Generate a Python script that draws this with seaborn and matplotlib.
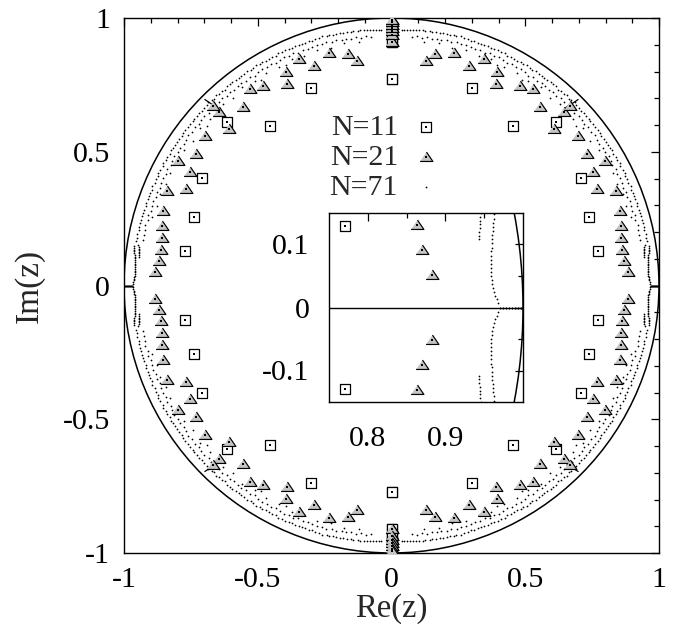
import numpy as np
import matplotlib
matplotlib.use("Agg")
import matplotlib.pyplot as plt
import seaborn as sns
from matplotlib.patches import Circle
from matplotlib.ticker import FixedLocator

# ---------------- data (first quadrant, mirrored to the other three) -------------
# N=11 (squares)
n11_x = [0.000, 0.302, 0.454, 0.615, 0.710, 0.740, 0.771, 0.000, 0.000, 0.000]
n11_y = [0.772, 0.737, 0.597, 0.612, 0.403, 0.255, 0.130, 0.909, 0.940, 0.958]

# N=21 (triangles)
n21_x = [0.128, 0.163, 0.234, 0.291, 0.347, 0.396, 0.389, 0.480, 0.528, 0.556,
         0.645, 0.667, 0.606, 0.696, 0.730, 0.799, 0.752, 0.769, 0.840, 0.854,
         0.858, 0.859, 0.863, 0.870, 0.883,
         0.000, 0.000, 0.000, 0.000, 0.000, 0.000, 0.000]
n21_y = [0.839, 0.864, 0.870, 0.822, 0.847, 0.799, 0.752, 0.747, 0.733, 0.668,
         0.649, 0.671, 0.585, 0.559, 0.492, 0.467, 0.426, 0.360, 0.353, 0.280,
         0.224, 0.178, 0.131, 0.091, 0.051,
         0.909, 0.935, 0.950, 0.962, 0.975, 0.985, 0.993]

# N=71 (dots): outer band (angle in degrees, radius)
outer_deg = [87.7, 87.2, 86.6, 85.9, 85.1, 84.6, 83.8, 83.0, 82.4, 81.5,
             80.9, 80.0, 79.2, 78.5, 77.6, 76.9, 76.0, 75.4, 74.5, 73.7,
             72.8, 72.1, 71.3, 70.4, 69.6, 68.9, 68.0, 67.3, 66.5, 65.6,
             64.9, 64.0, 63.3, 62.4, 61.6, 60.9, 60.0, 59.2, 58.5, 57.6,
             56.8, 56.1, 55.2, 54.4, 53.7, 52.8, 52.0, 51.3, 50.5, 49.6,
             48.9, 48.0, 47.3, 46.5, 45.8, 45.0, 44.3, 43.5, 42.6, 41.9,
             41.0, 40.2, 39.5, 38.6, 37.9, 37.0, 36.2, 35.5, 34.6, 33.8,
             33.0, 32.2, 31.5, 30.6, 29.8, 29.0, 28.2, 27.5, 26.6, 25.8,
             25.0, 24.2, 23.5, 22.6, 21.8, 21.0, 20.3, 19.5, 18.6, 17.9,
             17.0, 16.3, 15.5, 14.6, 13.9, 13.0, 12.3, 11.5, 10.6, 9.9]
outer_r = [0.955, 0.957, 0.956, 0.959, 0.958, 0.961, 0.960, 0.962, 0.960, 0.963,
           0.961, 0.964, 0.962, 0.965, 0.963, 0.961, 0.964, 0.962, 0.966, 0.963,
           0.965, 0.962, 0.964, 0.961, 0.965, 0.963, 0.966, 0.962, 0.964, 0.967,
           0.963, 0.965, 0.962, 0.966, 0.964, 0.961, 0.965, 0.963, 0.967, 0.964,
           0.962, 0.966, 0.963, 0.965, 0.961, 0.964, 0.967, 0.963, 0.965, 0.962,
           0.966, 0.964, 0.967, 0.963, 0.965, 0.968, 0.964, 0.966, 0.962, 0.965,
           0.963, 0.967, 0.964, 0.966, 0.962, 0.965, 0.968, 0.964, 0.966, 0.963,
           0.967, 0.964, 0.966, 0.963, 0.967, 0.965, 0.968, 0.964, 0.966, 0.969,
           0.965, 0.967, 0.964, 0.968, 0.966, 0.969, 0.965, 0.967, 0.970, 0.966,
           0.968, 0.966, 0.969, 0.967, 0.970, 0.968, 0.966, 0.969, 0.967, 0.968]
# middle band
middle_deg = [85.2, 84.1, 83.0, 81.8, 80.7, 79.5, 78.6, 77.3, 76.2, 75.0,
              73.9, 72.8, 71.6, 70.5, 69.4, 68.2, 67.1, 66.0, 64.8, 63.7,
              62.6, 61.4, 60.3, 59.2, 58.0, 56.9, 55.8, 54.6, 53.5, 52.4,
              51.2, 50.1, 49.0, 47.8, 46.7, 45.6, 44.4, 43.3, 42.2, 41.0,
              39.9, 38.8, 37.6, 36.5, 35.4, 34.2, 33.1, 32.0, 30.8, 29.7,
              28.6, 27.4, 26.3, 25.2, 24.0, 22.9, 21.8, 20.6, 19.5, 18.4,
              17.2, 16.1, 15.0, 13.8, 12.7, 11.6, 10.4]
middle_r = [0.932, 0.936, 0.934, 0.938, 0.935, 0.939, 0.936, 0.940, 0.937, 0.941,
            0.938, 0.942, 0.939, 0.936, 0.941, 0.938, 0.942, 0.939, 0.943, 0.940,
            0.937, 0.942, 0.939, 0.943, 0.940, 0.937, 0.942, 0.939, 0.944, 0.941,
            0.938, 0.943, 0.940, 0.944, 0.941, 0.938, 0.943, 0.940, 0.945, 0.942,
            0.939, 0.944, 0.941, 0.945, 0.942, 0.939, 0.944, 0.941, 0.946, 0.943,
            0.940, 0.945, 0.942, 0.946, 0.943, 0.940, 0.945, 0.942, 0.947, 0.944,
            0.941, 0.946, 0.943, 0.947, 0.944, 0.946, 0.945]
# inner sparse dots
inner_deg = [82.5, 79.0, 75.8, 72.4, 69.1, 66.3, 62.8, 59.5, 56.2, 53.0,
             49.7, 47.1, 42.5, 39.4, 36.0, 33.2, 30.1, 27.0, 24.3, 21.5,
             18.8, 16.0, 40.8, 57.7, 64.5]
inner_r = [0.918, 0.922, 0.915, 0.924, 0.919, 0.926, 0.917, 0.923, 0.920, 0.927,
           0.918, 0.924, 0.921, 0.928, 0.919, 0.925, 0.922, 0.929, 0.924, 0.930,
           0.926, 0.931, 0.912, 0.910, 0.914]
# dense tails close to the real axis (Cartesian)
tailB_x = [0.962, 0.962, 0.961, 0.961, 0.961, 0.960, 0.960, 0.960, 0.960, 0.959,
           0.959, 0.959, 0.959, 0.959, 0.959, 0.959, 0.960, 0.960, 0.961, 0.962,
           0.964, 0.966, 0.968]
tailB_y = [0.148, 0.141, 0.134, 0.128, 0.121, 0.115, 0.108, 0.102, 0.095, 0.089,
           0.082, 0.076, 0.069, 0.063, 0.056, 0.050, 0.044, 0.037, 0.031, 0.025,
           0.019, 0.013, 0.007]
tailA_x = [0.946, 0.945, 0.945, 0.944, 0.944, 0.943, 0.943, 0.943]
tailA_y = [0.150, 0.144, 0.138, 0.132, 0.126, 0.120, 0.114, 0.108]
axis_x = [0.970, 0.974, 0.978, 0.982, 0.986, 0.990, 0.994, 0.998]
axis_y = [0.0, 0.0, 0.0, 0.0, 0.0, 0.0, 0.0, 0.0]
# short dense streaks crossing the bands near 45 degrees
streak_deg = [45.6, 44.9]
streak_r = [0.925, 0.985]

# ---------------- helpers --------------------------------------------------------
QUADS = [(1, 1), (-1, 1), (1, -1), (-1, -1)]


def mirror(xs, ys):
    X, Y = [], []
    for sx, sy in QUADS:
        X += [sx * v for v in xs]
        Y += [sy * v for v in ys]
    return np.array(X), np.array(Y)


def polar(deg, r):
    d = np.radians(np.array(deg))
    r = np.array(r)
    return list(r * np.cos(d)), list(r * np.sin(d))


sq_x, sq_y = mirror(n11_x, n11_y)
tr_x, tr_y = mirror(n21_x, n21_y)
ox, oy = polar(outer_deg, outer_r)
mx, my = polar(middle_deg, middle_r)
ix, iy = polar(inner_deg, inner_r)
dots_x, dots_y = mirror(ox + mx + ix + tailB_x + tailA_x + axis_x,
                        oy + my + iy + tailB_y + tailA_y + axis_y)
stx, sty = polar(streak_deg, streak_r)

# ---------------- style ----------------------------------------------------------
sns.set_style("white")
plt.rcParams['font.family'] = ['Liberation Serif', 'DejaVu Serif']
plt.rcParams['axes.linewidth'] = 1.0

FS = 21.5
TRI = [(-1.0, -0.62), (1.0, -0.62), (0.0, 0.85)]

fig = plt.figure(figsize=(6.76, 6.31), dpi=100)
ax = fig.add_axes([124 / 676, 1 - 553 / 631, 535 / 676, 535 / 631])
axin = fig.add_axes([329 / 676, 1 - 402 / 631, 194 / 676, 189 / 631])


def draw(a):
    a.add_patch(Circle((0, 0), 1.0, fill=False, ec='black', lw=1.1, zorder=1))
    sns.scatterplot(x=sq_x, y=sq_y, marker='s', s=58, color='black',
                    facecolor='white', edgecolor='black', linewidth=0.9,
                    ax=a, zorder=3, legend=False)
    sns.scatterplot(x=sq_x, y=sq_y, marker='s', s=1.3, color='black',
                    linewidth=0, ax=a, zorder=4, legend=False)
    sns.scatterplot(x=tr_x, y=tr_y, marker=TRI, s=85, color='black',
                    facecolor='#c4c4c4', edgecolor='black', linewidth=0.85,
                    ax=a, zorder=5, legend=False)
    sns.scatterplot(x=tr_x, y=tr_y, marker='s', s=1.3, color='black',
                    linewidth=0, ax=a, zorder=6, legend=False)
    sns.scatterplot(x=dots_x, y=dots_y, marker='o', s=1.6, color='black',
                    linewidth=0, ax=a, zorder=2, legend=False)
    for sx, sy in QUADS:
        sns.lineplot(x=[sx * v for v in stx], y=[sy * v for v in sty],
                     color='black', lw=0.9, ax=a, sort=False, zorder=2)


draw(ax)
draw(axin)

# main axes
ax.set_xlim(-1, 1)
ax.set_ylim(-1, 1)
ax.set_xticks([-1, -0.5, 0, 0.5, 1])
ax.set_xticklabels(['-1', '-0.5', '0', '0.5', '1'])
ax.set_yticks([-1, -0.5, 0, 0.5, 1])
ax.set_yticklabels(['-1', '-0.5', '0', '0.5', '1'])
minor = [v / 10 for v in range(-9, 10) if v % 5 != 0]
ax.xaxis.set_minor_locator(FixedLocator(minor))
ax.yaxis.set_minor_locator(FixedLocator(minor))
ax.tick_params(which='both', direction='in', top=True, right=True,
               width=0.9, colors='black', labelsize=FS)
ax.tick_params(which='major', length=6)
ax.tick_params(which='minor', length=3.3)
ax.tick_params(axis='x', which='major', pad=10)
ax.tick_params(axis='y', which='major', pad=10)
ax.set_xlabel('Re(z)', fontsize=23.5, labelpad=0.5)
ax.set_ylabel('Im(z)', fontsize=24, labelpad=13)
for s in ax.spines.values():
    s.set_color('black')

# inset axes
axin.set_xlim(0.75, 1.0)
axin.set_ylim(-0.15, 0.15)
axin.axhline(0, color='black', lw=1.0, zorder=1)
axin.set_xticks([0.8, 0.9])
axin.set_xticklabels(['0.8', '0.9'])
axin.set_yticks([-0.1, 0, 0.1])
axin.set_yticklabels(['-0.1', '0', '0.1'])
axin.xaxis.set_minor_locator(FixedLocator([0.85, 0.95]))
axin.yaxis.set_minor_locator(FixedLocator([-0.05, 0.05]))
axin.tick_params(which='both', direction='in', top=True, right=True,
                 width=0.9, colors='black', labelsize=FS)
axin.tick_params(which='major', length=6)
axin.tick_params(which='minor', length=3.3)
axin.tick_params(axis='x', which='major', pad=17.5)
axin.tick_params(axis='y', which='major', pad=14)
axin.set_facecolor('white')
for s in axin.spines.values():
    s.set_color('black')

# legend (gnuplot-style key: text then sample)
h_sq = ax.collections[0]
h_sqd = ax.collections[1]
h_tr = ax.collections[2]
h_trd = ax.collections[3]
h_dot = ax.collections[4]
leg = ax.legend([(h_sq, h_sqd), (h_tr, h_trd), h_dot], ['N=11', 'N=21', 'N=71'],
                loc='upper right', bbox_to_anchor=(441 / 676, 1 - 114 / 631),
                bbox_transform=fig.transFigure, frameon=False, markerfirst=False,
                fontsize=FS, handlelength=1.0, handletextpad=0.44,
                labelspacing=0.1, borderpad=0, borderaxespad=0,
                scatterpoints=1)

fig.savefig('out.png', dpi=100)
